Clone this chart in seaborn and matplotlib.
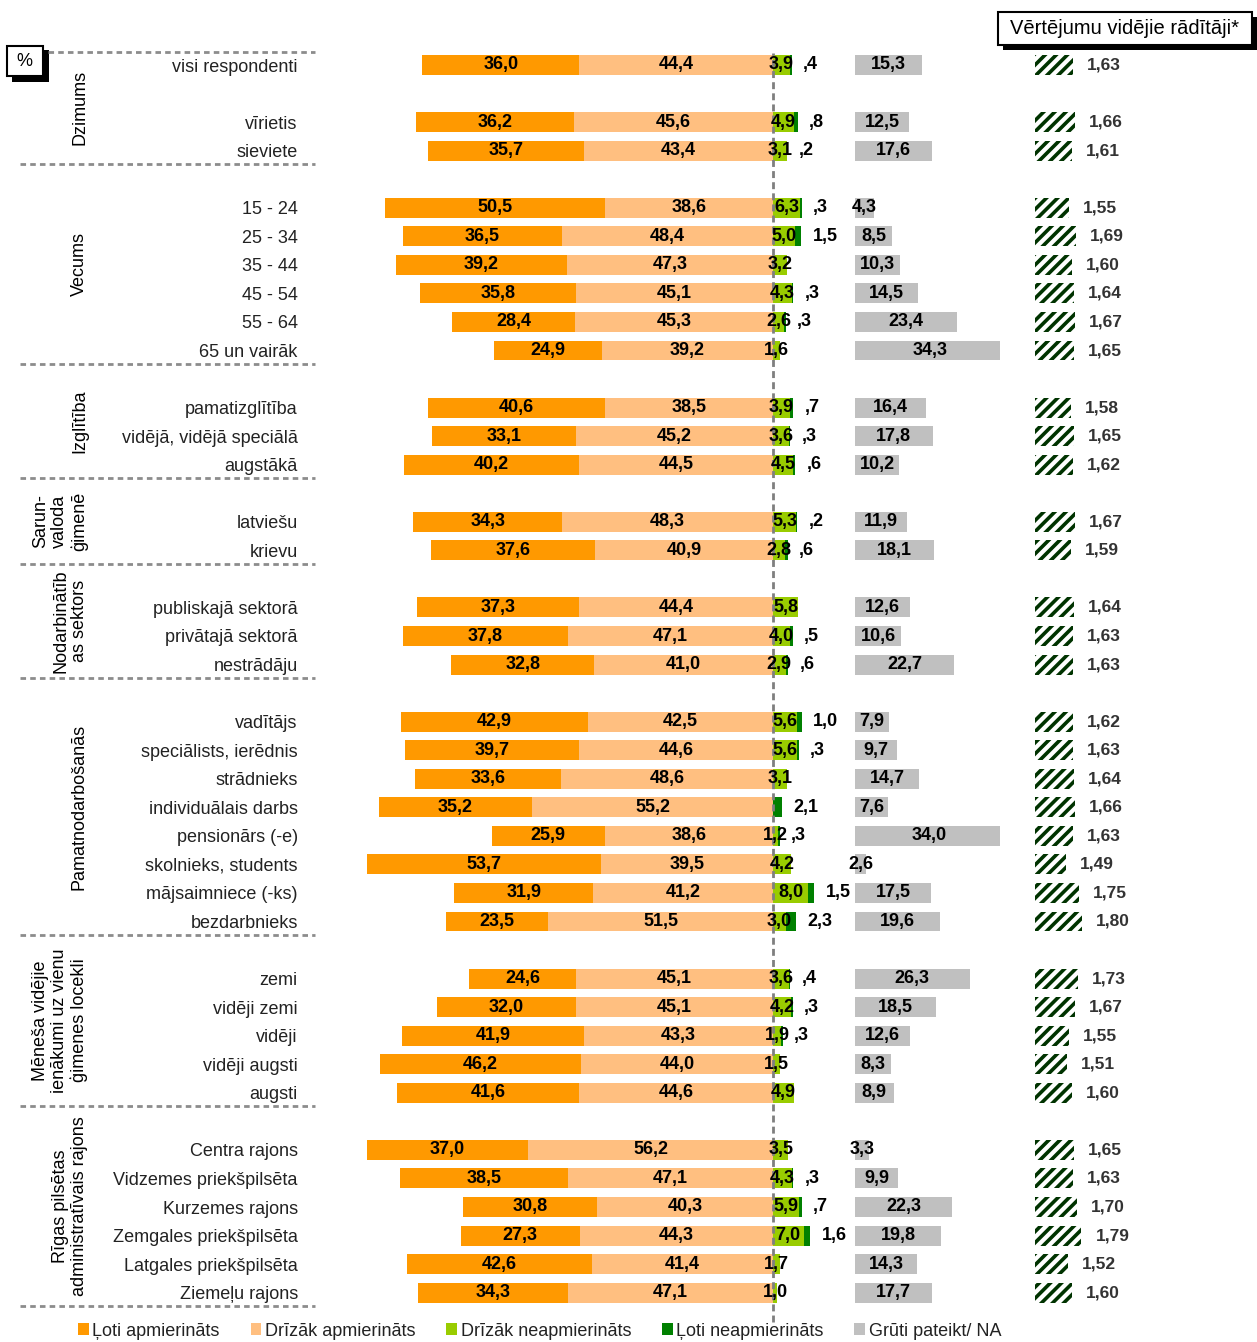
import numpy as np
import matplotlib
matplotlib.use("Agg")
import matplotlib.pyplot as plt
import matplotlib.transforms as mtransforms
from matplotlib.patches import Patch, Rectangle
from matplotlib.lines import Line2D
import seaborn as sns

# ---------------- data ----------------
sections = [
    ("Dzimums", ["visi respondenti", None, "vīrietis", "sieviete"]),
    ("Vecums", ["15 - 24", "25 - 34", "35 - 44", "45 - 54", "55 - 64", "65 un vairāk"]),
    ("Izglītība", ["pamatizglītība", "vidējā, vidējā speciālā", "augstākā"]),
    ("Sarun-\nvaloda\nģimenē", ["latviešu", "krievu"]),
    ("Nodarbinātīb\nas sektors", ["publiskajā sektorā", "privātajā sektorā", "nestrādāju"]),
    ("Pamatnodarbošanās", ["vadītājs", "speciālists, ierēdnis", "strādnieks", "individuālais darbs",
                           "pensionārs (-e)", "skolnieks, students", "mājsaimniece (-ks)", "bezdarbnieks"]),
    ("Mēneša vidējie\nienākumi uz vienu\nģimenes locekli", ["zemi", "vidēji zemi", "vidēji", "vidēji augsti", "augsti"]),
    ("Rīgas pilsētas\nadministratīvais rajons", ["Centra rajons", "Vidzemes priekšpilsēta", "Kurzemes rajons",
                                                "Zemgales priekšpilsēta", "Latgales priekšpilsēta", "Ziemeļu rajons"]),
]

loti_apm = [36.0, 36.2, 35.7, 50.5, 36.5, 39.2, 35.8, 28.4, 24.9, 40.6, 33.1, 40.2, 34.3, 37.6, 37.3, 37.8, 32.8,
            42.9, 39.7, 33.6, 35.2, 25.9, 53.7, 31.9, 23.5, 24.6, 32.0, 41.9, 46.2, 41.6, 37.0, 38.5, 30.8, 27.3, 42.6, 34.3]
drizak_apm = [44.4, 45.6, 43.4, 38.6, 48.4, 47.3, 45.1, 45.3, 39.2, 38.5, 45.2, 44.5, 48.3, 40.9, 44.4, 47.1, 41.0,
              42.5, 44.6, 48.6, 55.2, 38.6, 39.5, 41.2, 51.5, 45.1, 45.1, 43.3, 44.0, 44.6, 56.2, 47.1, 40.3, 44.3, 41.4, 47.1]
drizak_neapm = [3.9, 4.9, 3.1, 6.3, 5.0, 3.2, 4.3, 2.6, 1.6, 3.9, 3.6, 4.5, 5.3, 2.8, 5.8, 4.0, 2.9,
                5.6, 5.6, 3.1, 0.0, 1.2, 4.2, 8.0, 3.0, 3.6, 4.2, 1.9, 1.5, 4.9, 3.5, 4.3, 5.9, 7.0, 1.7, 1.0]
loti_neapm = [0.4, 0.8, 0.2, 0.3, 1.5, 0.0, 0.3, 0.3, 0.0, 0.7, 0.3, 0.6, 0.2, 0.6, 0.0, 0.5, 0.6,
              1.0, 0.3, 0.0, 2.1, 0.3, 0.0, 1.5, 2.3, 0.4, 0.3, 0.3, 0.0, 0.0, 0.0, 0.3, 0.7, 1.6, 0.0, 0.0]
gruti = [15.3, 12.5, 17.6, 4.3, 8.5, 10.3, 14.5, 23.4, 34.3, 16.4, 17.8, 10.2, 11.9, 18.1, 12.6, 10.6, 22.7,
         7.9, 9.7, 14.7, 7.6, 34.0, 2.6, 17.5, 19.6, 26.3, 18.5, 12.6, 8.3, 8.9, 3.3, 9.9, 22.3, 19.8, 14.3, 17.7]
means = [1.63, 1.66, 1.61, 1.55, 1.69, 1.60, 1.64, 1.67, 1.65, 1.58, 1.65, 1.62, 1.67, 1.59, 1.64, 1.63, 1.63,
         1.62, 1.63, 1.64, 1.66, 1.63, 1.49, 1.75, 1.80, 1.73, 1.67, 1.55, 1.51, 1.60, 1.65, 1.63, 1.70, 1.79, 1.52, 1.60]

legend_labels = ["Ļoti apmierināts", "Drīzāk apmierināts", "Drīzāk neapmierināts", "Ļoti neapmierināts", "Grūti pateikt/ NA"]
mean_title = "Vērtējumu vidējie rādītāji*"

# ---------------- style ----------------
C_OR = "#FF9900"
C_LOR = "#FFBF80"
C_LGR = "#99CC00"
C_DGR = "#008000"
C_GRAY = "#C0C0C0"
C_HATCH = "#003300"

sns.set_theme(style="white")
plt.rcParams['font.family'] = ['Liberation Sans', 'DejaVu Sans']
plt.rcParams['hatch.linewidth'] = 2.6
NARROW = ['Liberation Sans Narrow', 'Liberation Sans', 'DejaVu Sans']

# build row slots (blank slot between sections)
rows = []
sec_bounds = []
for si, (name, items) in enumerate(sections):
    if si > 0:
        rows.append(None)
    start = len(rows)
    rows.extend(items)
    sec_bounds.append((start, len(rows) - 1))
slot = np.array([i for i, r in enumerate(rows) if r is not None], dtype=float)
cats = [r for r in rows if r is not None]

a = np.array(loti_apm); b = np.array(drizak_apm)
c = np.array(drizak_neapm); d = np.array(loti_neapm)
e = np.array(gruti); m = np.array(means)

W, H = 1257, 1342
fig = plt.figure(figsize=(W / 100, H / 100), dpi=100)
def fx(px): return px / W
def fy(py): return 1 - py / H

ROW = 28.55; Y0 = 65
AX_TOP, AX_BOT = 40, 1318
PX = 4.36; X0 = 773
GRAY_OFF = 18.8
ylim = ((AX_BOT - Y0) / ROW, (AX_TOP - Y0) / ROW)

ax = fig.add_axes([fx(320), fy(AX_BOT), fx(1000) - fx(320), (AX_BOT - AX_TOP) / H])
common = dict(orient='y', native_scale=True, width=0.7, saturation=1, errorbar=None, linewidth=0, ax=ax)
# left side: outer "Ļoti apmierināts", inner "Drīzāk apmierināts"
sns.barplot(x=-(a + b), y=slot, color=C_OR, **common)
sns.barplot(x=-b, y=slot, color=C_LOR, **common)
# right side: inner "Drīzāk neapmierināts", outer "Ļoti neapmierināts"
sns.barplot(x=c + d, y=slot, color=C_DGR, **common)
sns.barplot(x=c, y=slot, color=C_LGR, **common)
# separate block: "Grūti pateikt/ NA"
sns.barplot(x=e, y=slot, color=C_GRAY, left=GRAY_OFF, **common)

ax.set_xlim((320 - X0) / PX, (1000 - X0) / PX)
ax.set_ylim(*ylim)
ax.set_xticks([])
ax.set_xlabel(""); ax.set_ylabel("")
ax.set_yticks(slot, cats)
ax.tick_params(axis='y', length=0, pad=16, labelsize=13, labelcolor='#222222')
for s in ax.spines.values():
    s.set_visible(False)
ax.axvline(0, ymin=-0.003, ymax=0.99, color='#7F7F7F', lw=2, ls=(0, (2.5, 1.5)), zorder=4, clip_on=False)

def fmt(v):
    s = f"{v:.1f}".replace('.', ',')
    if v < 1:
        s = s[1:]
    return s

lab = dict(va='center', fontsize=13, fontweight='bold', family=NARROW, color='black', zorder=6)
for i, y in enumerate(slot):
    ax.text(-(b[i] + a[i] / 2), y, fmt(a[i]), ha='center', **lab)
    ax.text(-b[i] / 2, y, fmt(b[i]), ha='center', **lab)
    if c[i] > 0:
        ax.text(c[i] / 2, y, fmt(c[i]), ha='center', **lab)
    if d[i] > 0:
        ax.text(c[i] + d[i] + 2.6, y, fmt(d[i]), ha='left', **lab)
    ax.text(GRAY_OFF + e[i] / 2, y, fmt(e[i]), ha='center', **lab)

# separators and section labels
trans = mtransforms.blended_transform_factory(fig.transFigure, ax.transData)
line_ys = [-0.47] + [end + 0.47 for (_, end) in sec_bounds]
for k, ly in enumerate(line_ys):
    x_start = fx(48) if k == 0 else fx(20)
    fig.add_artist(Line2D([x_start, fx(315)], [ly, ly], transform=trans, color='#8C8C8C',
                          lw=2, ls=(0, (2, 1.5))))
for k, (name, _) in enumerate(sections):
    yc = (line_ys[k] + line_ys[k + 1]) / 2
    fig.text(fx(88), yc, name, transform=trans, rotation=90, ha='right', va='center',
             multialignment='center', fontsize=13, color='black', linespacing=1.15)

# mean indicator column
ax2 = fig.add_axes([fx(1035), fy(AX_BOT), fx(1257) - fx(1035), (AX_BOT - AX_TOP) / H])
MBASE = 0.889; MK = 51.6
sns.barplot(x=m, y=slot, orient='y', native_scale=True, width=0.7, saturation=1, errorbar=None,
            color='white', edgecolor=C_HATCH, hatch='///', linewidth=0, ax=ax2)
ax2.set_xlim(MBASE, MBASE + 222 / MK)
ax2.set_ylim(*ylim)
ax2.axis('off')
for i, y in enumerate(slot):
    ax2.text(m[i] + 0.27, y, f"{m[i]:.2f}".replace('.', ','), ha='left', va='center',
             fontsize=12.5, fontweight='bold', color='#333333', family=NARROW)

# header box with shadow
fig.add_artist(Rectangle((fx(1003), fy(50)), fx(1257) - fx(1003), (50 - 17) / H,
                         transform=fig.transFigure, facecolor='black', edgecolor='none'))
fig.add_artist(Rectangle((fx(998), fy(45)), fx(1252) - fx(998), (45 - 12) / H,
                         transform=fig.transFigure, facecolor='white', edgecolor='black', lw=1.5))
fig.text(fx(1125), fy(28.5), mean_title, ha='center', va='center', fontsize=14.5, color='black')

# "%" box with shadow
fig.add_artist(Rectangle((fx(12), fy(82)), fx(49) - fx(12), (82 - 50) / H,
                         transform=fig.transFigure, facecolor='black', edgecolor='none'))
fig.add_artist(Rectangle((fx(7), fy(76)), fx(43) - fx(7), (76 - 46) / H,
                         transform=fig.transFigure, facecolor='white', edgecolor='black', lw=1.5))
fig.text(fx(24), fy(61), "%", ha='center', va='center', fontsize=13, color='black')

# legend
handles = [Patch(facecolor=col, edgecolor='none') for col in [C_OR, C_LOR, C_LGR, C_DGR, C_GRAY]]
fig.legend(handles, legend_labels, loc='center left', bbox_to_anchor=(fx(78), fy(1331)), ncol=5,
           frameon=False, fontsize=13, handlelength=0.6, handleheight=0.6, handletextpad=0.2,
           columnspacing=1.7, borderpad=0, borderaxespad=0, labelcolor='#222222')

fig.savefig("out.png", dpi=100)
